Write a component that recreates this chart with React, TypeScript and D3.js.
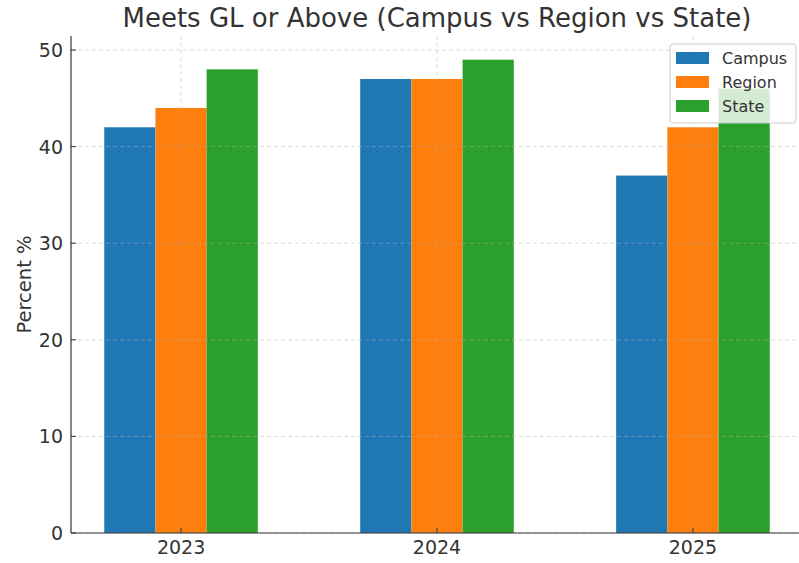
import React from "react";
import * as d3 from "d3";

const years = ["2023", "2024", "2025"];
const seriesNames = ["Campus", "Region", "State"];
const campus = [42, 47, 37];
const region = [44, 47, 42];
const stateVals = [48, 49, 46];
const yTicks = [0, 10, 20, 30, 40, 50];
const colors = ["#1f77b4", "#ff7f0e", "#2ca02c"];

const W = 799;
const H = 563;
const margin = { top: 36, left: 71, bottom: 30 };
const barW = 0.2;

const App: React.FC = () => {
  const series = [campus, region, stateVals];

  const x = d3.scaleLinear().domain([-0.43, 2.43]).range([margin.left, 803]);
  const y = d3
    .scaleLinear()
    .domain([0, 51.45])
    .range([H - margin.bottom, margin.top]);

  const font = "'DejaVu Sans', sans-serif";
  const textColor = "#333";
  const x0 = y(0);

  return (
    <svg
      width={W}
      height={H}
      style={{ position: "absolute", top: 0, left: 0, background: "#fff" }}
      fontFamily={font}
    >
      {/* bars */}
      {series.map((vals, si) =>
        vals.map((v, i) => {
          const left = x(i + (si - 1) * barW - barW / 2);
          const right = x(i + (si - 1) * barW + barW / 2);
          return (
            <rect
              key={`${si}-${i}`}
              x={left}
              y={y(v)}
              width={right - left}
              height={x0 - y(v)}
              fill={colors[si]}
            />
          );
        })
      )}

      {/* grid on top */}
      <g stroke="#b0b0b0" strokeDasharray="4,3" strokeWidth={0.8} opacity={0.6}>
        {yTicks.map((t) => (
          <line key={t} x1={margin.left} x2={W} y1={y(t)} y2={y(t)} />
        ))}
        {years.map((yr, i) => (
          <line key={yr} x1={x(i)} x2={x(i)} y1={margin.top} y2={x0} />
        ))}
      </g>

      {/* spines */}
      <line x1={margin.left} x2={margin.left} y1={margin.top} y2={x0} stroke="#333" strokeWidth={1.2} />
      <line x1={margin.left} x2={W} y1={x0} y2={x0} stroke="#333" strokeWidth={1.2} />

      {/* y ticks */}
      {yTicks.map((t) => (
        <g key={t}>
          <line x1={margin.left} x2={margin.left + 5} y1={y(t)} y2={y(t)} stroke="#333" />
          <text
            x={margin.left - 8}
            y={y(t)}
            textAnchor="end"
            dominantBaseline="central"
            fontSize={19}
            fill={textColor}
          >
            {t}
          </text>
        </g>
      ))}

      {/* x ticks */}
      {years.map((yr, i) => (
        <g key={yr}>
          <line x1={x(i)} x2={x(i)} y1={x0} y2={x0 - 5} stroke="#333" />
          <text x={x(i)} y={x0 + 21} textAnchor="middle" fontSize={19} fill={textColor}>
            {yr}
          </text>
        </g>
      ))}

      {/* y label */}
      <text
        transform={`translate(31,${(margin.top + x0) / 2}) rotate(-90)`}
        textAnchor="middle"
        fontSize={19.5}
        fill={textColor}
      >
        Percent %
      </text>

      {/* title */}
      <text x={437} y={27} textAnchor="middle" fontSize={26} fill={textColor}>
        Meets GL or Above (Campus vs Region vs State)
      </text>

      {/* legend */}
      <g>
        <rect
          x={670}
          y={44}
          width={126}
          height={79}
          rx={3}
          fill="#fff"
          fillOpacity={0.8}
          stroke="#ccc"
        />
        {seriesNames.map((name, i) => (
          <g key={name} transform={`translate(676,${58 + i * 24})`}>
            <rect x={0} y={-6} width={33} height={12} fill={colors[i]} />
            <text x={46} y={0} dominantBaseline="central" fontSize={16} fill={textColor}>
              {name}
            </text>
          </g>
        ))}
      </g>
    </svg>
  );
};

export default App;
